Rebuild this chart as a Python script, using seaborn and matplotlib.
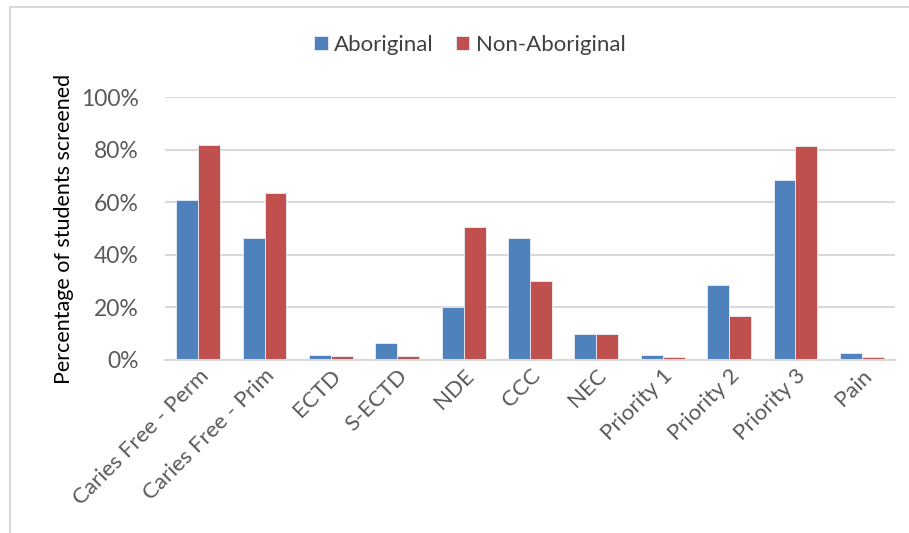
import pandas as pd
import seaborn as sns
import matplotlib.pyplot as plt
from matplotlib.patches import Rectangle
from matplotlib.ticker import PercentFormatter

# values (share of students screened)
categories = ["Caries Free - Perm", "Caries Free - Prim", "ECTD", "S-ECTD", "NDE",
              "CCC", "NEC", "Priority 1", "Priority 2", "Priority 3", "Pain"]
aboriginal = [0.61, 0.465, 0.018, 0.063, 0.20, 0.465, 0.10, 0.018, 0.285, 0.684, 0.028]
non_aboriginal = [0.817, 0.634, 0.014, 0.015, 0.504, 0.299, 0.10, 0.010, 0.168, 0.814, 0.012]
groups = ["Aboriginal", "Non-Aboriginal"]

df = pd.DataFrame({
    "Category": categories * 2,
    "Group": [groups[0]] * len(categories) + [groups[1]] * len(categories),
    "Value": aboriginal + non_aboriginal,
})

sns.set_style("white")
plt.rcParams["font.family"] = ["Lato", "DejaVu Sans"]

fig = plt.figure(figsize=(9.09, 5.33), dpi=100)
ax = fig.add_axes([165 / 909, 1 - 360 / 533, 730 / 909, 263 / 533])

sns.barplot(data=df, x="Category", y="Value", hue="Group", order=categories,
            palette=["#4F81BD", "#C0504D"], saturation=1, width=0.66, ax=ax,
            edgecolor="#E8EEF7", linewidth=0.6, errorbar=None)

ax.set_ylim(0, 1)
ax.set_xlim(-0.5, len(categories) - 0.5)
ax.set_yticks([0, 0.2, 0.4, 0.6, 0.8, 1.0])
ax.yaxis.set_major_formatter(PercentFormatter(1.0, decimals=0))
ax.grid(axis="y", color="#D9D9D9", linewidth=1.5)
ax.set_axisbelow(True)
for s in ["top", "right", "left"]:
    ax.spines[s].set_visible(False)
ax.spines["bottom"].set_color("#D9D9D9")
ax.spines["bottom"].set_linewidth(1.5)
ax.tick_params(axis="y", length=0, labelsize=16.5, colors="#595959", pad=19)
ax.tick_params(axis="x", length=0, labelsize=16, colors="#595959", pad=4)
plt.setp(ax.get_xticklabels(), rotation=45, ha="right", rotation_mode="anchor")
ax.set_xlabel("")
ax.set_ylabel("Percentage of students screened", fontsize=15.5, color="black", labelpad=5)

# legend centred over the whole chart area
handles, labels = ax.get_legend_handles_labels()
ax.get_legend().remove()
fig.legend(handles, labels, loc="center", bbox_to_anchor=(470 / 909, 1 - 45 / 533),
           ncol=2, frameon=False, fontsize=16, handlelength=0.6, handleheight=0.6,
           handletextpad=0.3, columnspacing=1.0, labelcolor="#404040")

# light frame of the chart area
fig.patches.append(Rectangle((10 / 909, -0.05), 1.0, 1 - 7 / 533 + 0.05,
                             transform=fig.transFigure, fill=False,
                             edgecolor="#D9D9D9", linewidth=1.5))

fig.savefig("out.png", dpi=100)
